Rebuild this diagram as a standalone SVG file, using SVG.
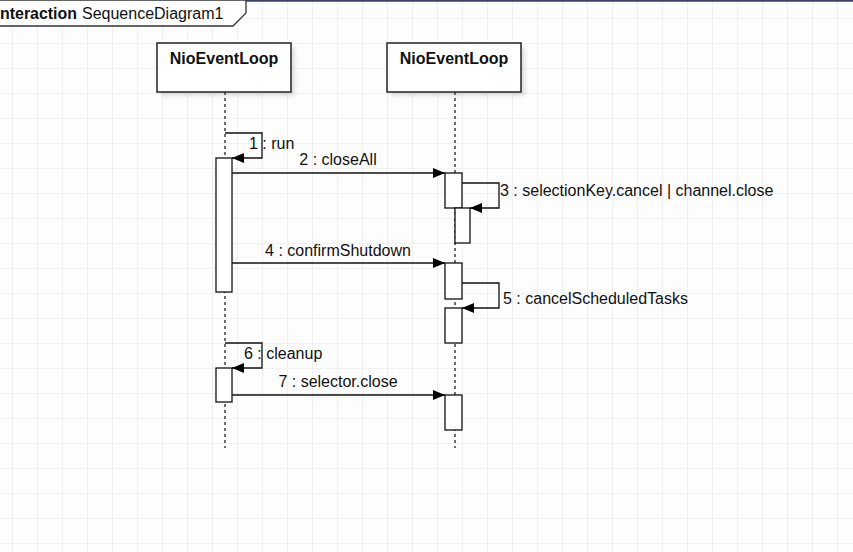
<svg xmlns="http://www.w3.org/2000/svg" width="853" height="552" viewBox="0 0 853 552">
<defs>
<pattern id="grid" x="12" y="18" width="25" height="25" patternUnits="userSpaceOnUse">
<path d="M0 0V25M0 0H25" fill="none" stroke="#e8e8e8" stroke-width="1.2"/>
</pattern>
<marker id="arr" viewBox="0 0 12 10" refX="12" refY="5" markerWidth="12" markerHeight="10" markerUnits="userSpaceOnUse" orient="auto">
<path d="M0 0L12 5L0 10Z" fill="#000"/>
</marker>
<filter id="sh" x="-10%" y="-10%" width="130%" height="140%"><feGaussianBlur stdDeviation="2"/></filter>
</defs>
<style>
.t{font-family:"Liberation Sans",Arial,sans-serif;font-size:16px;fill:#111}
.b{font-weight:bold}
.box{fill:#fff;stroke:#222;stroke-width:1.5}
.act{fill:#fff;stroke:#111;stroke-width:1.3}
.life{stroke:#222;stroke-width:1.3;stroke-dasharray:3 3;fill:none}
.msg{stroke:#111;stroke-width:1.3;fill:none;marker-end:url(#arr)}
</style>
<rect width="853" height="552" fill="#fdfdfd"/>
<rect width="853" height="552" fill="url(#grid)"/>
<line x1="0" y1="0.8" x2="853" y2="0.8" stroke="#3c4262" stroke-width="2"/>
<g id="frame">
<path d="M-2 0H246V13L233 26H-2" fill="#fff" stroke="#333" stroke-width="1.3"/>
<text class="t b" x="0" y="19" textLength="77" lengthAdjust="spacingAndGlyphs">nteraction</text>
<text class="t" x="82" y="19">SequenceDiagram1</text>
</g>
<g id="lifeline1">
<rect x="161" y="47" width="134" height="49" fill="#000" opacity="0.12" filter="url(#sh)"/>
<rect class="box" x="157" y="43" width="134" height="49"/>
<text class="t b" x="224" y="64" text-anchor="middle">NioEventLoop</text>
<line class="life" x1="225" y1="92" x2="225" y2="448"/>
</g>
<g id="lifeline2">
<rect x="391" y="47" width="134" height="49" fill="#000" opacity="0.12" filter="url(#sh)"/>
<rect class="box" x="387" y="43" width="134" height="49"/>
<text class="t b" x="454" y="64" text-anchor="middle">NioEventLoop</text>
<line class="life" x1="455" y1="92" x2="455" y2="448"/>
</g>
<g id="activations">
<rect class="act" x="216" y="158" width="16" height="134"/>
<rect class="act" x="216" y="368" width="16" height="34"/>
<rect class="act" x="445" y="173" width="17" height="35"/>
<rect class="act" x="455" y="208" width="15" height="35"/>
<rect class="act" x="445" y="263" width="17" height="36"/>
<rect class="act" x="445" y="308" width="17" height="35"/>
<rect class="act" x="445" y="395" width="17" height="35"/>
</g>
<g id="connectors">
<path class="msg" d="M225 133H262V158H232"/>
<path class="msg" d="M232 173H445"/>
<path class="msg" d="M462 183H499V208H470"/>
<path class="msg" d="M232 263H445"/>
<path class="msg" d="M462 283H499V308H462"/>
<path class="msg" d="M225 343H262V368H232"/>
<path class="msg" d="M232 395H445"/>
</g>
<g id="labels">
<text class="t" x="249" y="149">1 : run</text>
<text class="t" x="338" y="165" text-anchor="middle">2 : closeAll</text>
<text class="t" x="500" y="196">3 : selectionKey.cancel | channel.close</text>
<text class="t" x="338" y="256" text-anchor="middle">4 : confirmShutdown</text>
<text class="t" x="503" y="304">5 : cancelScheduledTasks</text>
<text class="t" x="244" y="359">6 : cleanup</text>
<text class="t" x="338" y="387" text-anchor="middle">7 : selector.close</text>
</g>
</svg>
